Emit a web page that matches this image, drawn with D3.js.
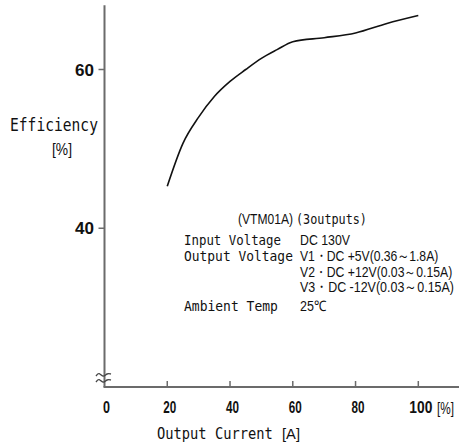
<!DOCTYPE html>
<html><head><meta charset="utf-8">
<script src="https://cdn.jsdelivr.net/npm/d3@7"></script>
<style>body{margin:0;background:#fff}svg{display:block}</style>
</head><body>
<svg id="c" width="459" height="448"></svg>
<script>
const outputCurrent = [20, 25, 30, 35, 40, 45, 50, 55, 60, 70, 80, 90, 100];
const efficiency    = [45.3, 50.7, 54.0, 56.6, 58.5, 60.0, 61.4, 62.5, 63.5, 64.0, 64.6, 65.8, 66.8];
const xTicks = [0, 20, 40, 60, 80, 100];
const yTicks = [40, 60];
const xUnit = "[%]";
const yAxisTitle = ["Efficiency", "[%]"];
const xAxisTitle = ["Output Current", "[A]"];
const notesTitle = ["(VTM01A)", "(3outputs)"];
const noteLabels = ["Input Voltage", "Output Voltage", "", "", "Ambient Temp"];
const noteValues = ["DC 130V", "V1・DC +5V(0.36～1.8A)", "V2・DC +12V(0.03～0.15A)", "V3・DC -12V(0.03～0.15A)", "25℃"];

const svg = d3.select("#c");
const x = d3.scaleLinear().domain([0, 100]).range([104.5, 418.3]);
const y = d3.scaleLinear().domain([20, 60]).range([387, 69.5]);
const AX = "#6b6b6b";
const mono = "'DejaVu Sans Mono', monospace";
const narrow = "'Liberation Sans', Arial, sans-serif";

// text squeezed horizontally to a target width via transform
function txt(xp, yp, s, fam, size, w, opts = {}) {
  const g = svg.append("g");
  const t = g.append("text").attr("x", 0).attr("y", 0).attr("font-family", fam)
    .attr("font-size", size).attr("fill", "#111").text(s);
  if (opts.anchor) t.attr("text-anchor", opts.anchor);
  if (opts.bold) t.attr("font-weight", "bold");
  const nat = t.node().getComputedTextLength();
  const sx = w && nat ? w / nat : 1;
  g.attr("transform", `translate(${xp},${yp}) scale(${sx},1)`);
  return t;
}

// axes lines
svg.append("line").attr("x1", x(0)).attr("x2", x(0)).attr("y1", y(68.1)).attr("y2", y(20))
  .attr("stroke", AX).attr("stroke-width", 2);
svg.append("line").attr("x1", x(0) - 1).attr("x2", 459).attr("y1", y(20)).attr("y2", y(20))
  .attr("stroke", AX).attr("stroke-width", 2);

// y ticks
yTicks.forEach(v => {
  svg.append("line").attr("x1", x(0) - 6).attr("x2", x(0)).attr("y1", y(v)).attr("y2", y(v))
    .attr("stroke", AX).attr("stroke-width", 1.5);
  txt(94, y(v) + 6, v, narrow, 16, 19, {anchor: "end", bold: true});
});

// x ticks
xTicks.forEach(v => {
  if (v > 0) svg.append("line").attr("x1", x(v)).attr("x2", x(v)).attr("y1", y(20) - 6).attr("y2", y(20))
    .attr("stroke", AX).attr("stroke-width", 1.5);
  txt(x(v) + (v === 0 ? 2 : 2.5), 413, v, narrow, 16, v === 0 ? 7 : v === 100 ? 23 : 13,
      {anchor: "middle", bold: true});
});
txt(437, 414, xUnit, narrow, 17, 17);

// break mark
const wave = d3.line().curve(d3.curveBasis);
[375, 381].forEach(yy => {
  svg.append("path").attr("d", wave([[96, yy + 1], [99, yy - 3], [103, yy + 3], [107, yy - 2], [111, yy - 1]]))
    .attr("fill", "none").attr("stroke", "#444").attr("stroke-width", 1.4);
});

// axis titles
txt(10, 131, yAxisTitle[0], mono, 17, 88);
txt(52, 155, yAxisTitle[1], narrow, 16, 20);
txt(157, 439, xAxisTitle[0], mono, 15, 116);
txt(282, 439, xAxisTitle[1], narrow, 15, 18);

// curve
svg.append("path")
  .attr("d", d3.line().x((d, i) => x(outputCurrent[i])).y(d => y(d)).curve(d3.curveMonotoneX)(efficiency))
  .attr("fill", "none").attr("stroke", "#111").attr("stroke-width", 1.6);

// notes
txt(238, 224, notesTitle[0], narrow, 14.5, 55);
txt(296, 224, notesTitle[1], mono, 14, 71);

const rowY = [245, 261, 277, 292, 311];
const labelW = [97, 109, 0, 0, 94];
const valueW = [50, 140, 154, 154, 26];
noteLabels.forEach((l, i) => {
  if (l) txt(184, rowY[i], l, mono, 14, labelW[i]);
  txt(300, rowY[i], noteValues[i], narrow, 14.5, valueW[i]);
});
</script>
</body></html>
